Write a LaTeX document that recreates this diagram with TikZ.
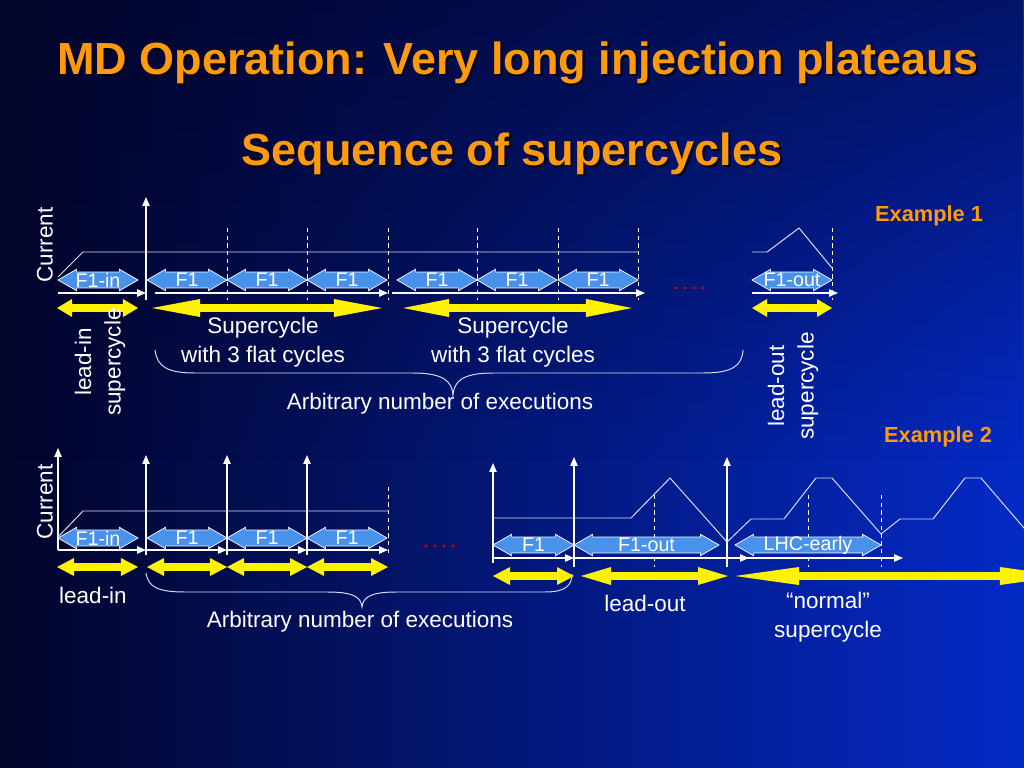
\documentclass[tikz,border=0pt]{standalone}
\usepackage{fontspec}
\setmainfont{Liberation Sans}
\usetikzlibrary{shapes.arrows,arrows.meta,fadings}
\definecolor{bgdark}{RGB}{2,4,42}
\definecolor{bgmid}{RGB}{12,32,132}
\definecolor{bglight}{RGB}{4,42,198}
\definecolor{ttlorange}{RGB}{255,155,10}
\definecolor{cycblue}{RGB}{72,146,236}
\definecolor{lvlgray}{RGB}{215,222,242}
\definecolor{dotred}{RGB}{160,10,20}
\tikzset{
  ax/.style={white,line width=0.9pt,-{Triangle[length=0.22cm,width=0.18cm]}},
  lvl/.style={lvlgray,line width=0.7pt},
  dashline/.style={white,line width=0.7pt,dash pattern=on 3pt off 2.5pt},
  cyc/.style={double arrow,draw=white,line width=0.5pt,fill=cycblue,
    double arrow tip angle=60,double arrow head extend=0.07cm,
    inner xsep=0pt,inner ysep=0.19cm,
    label={[text=white,font=\fontsize{14}{14}\selectfont]center:#1}},
  yarr/.style={yellow,line width=0.2cm,
    arrows={Triangle[length=#1,width=0.45cm,line width=0pt]-Triangle[length=#1,width=0.45cm,line width=0pt]}},
  txt/.style={text=white,font=\fontsize{16}{21}\selectfont,align=center},
  exlbl/.style={text=ttlorange,font=\fontsize{15.5}{18}\selectfont\bfseries},
  ttl/.style={font=\fontsize{32}{36}\selectfont\bfseries,anchor=base},
}
\begin{document}
\begin{tikzpicture}[x=0.025cm,y=-0.025cm]
\useasboundingbox (0,0) rectangle (1024,768);
\clip (0,0) rectangle (1024,768);
% background
\shade[left color=bgdark,middle color=bgmid,right color=bglight] (0,0) rectangle (1024,768);
\fill[bgdark,path fading=south,fill opacity=0.6] (0,0) rectangle (1024,460);
% titles
\foreach \d/\c in {2/black,0/ttlorange} {
  \node[ttl,text=\c] (title\d) at (518+\d,75+\d) {MD Operation: Very long injection plateaus};
  \node[ttl,text=\c] (sub\d) at (512+\d,166+\d) {Sequence of supercycles};
}
\node[exlbl] (ex1) at (929,216) {Example 1};
\node[exlbl] (ex2) at (938,437) {Example 2};

% Example 1
\draw[ax] (146,300) -- (146,197);
\draw[lvl] (58,277) -- (83,252) -- (638,252);
\draw[lvl] (752,252) -- (767,252) -- (799,228) -- (832,268);
\foreach \x in {227,307,388,477,558,638,832}
  \draw[dashline] (\x,228) -- (\x,300);
\foreach \a/\b in {58/146,155/388,392/645,752/838}
  \draw[ax] (\a,293) -- (\b,293);
\foreach \a/\t [count=\i] in {58/F1-in,147/F1,227/F1,307/F1,397/F1,477/F1,558/F1,752/F1-out}
  \node[cyc=\t,minimum height=2cm] (a\i) at (\a+40,280) {};
\foreach \a/\b/\l in {57/138/0.375cm,152/382/1.2cm,403/632/1.15cm,752/832/0.375cm}
  \draw[yarr=\l] (\a,308) -- (\b,308);
\foreach \x in {676,685,694,703}
  \fill[dotred] (\x,288) circle[radius=1.3pt];
\draw[lvl] (155,350) .. controls (157,367) and (168,373) .. (195,373) -- (413,373)
  .. controls (443,373) and (452,381) .. (453,395) .. controls (454,381) and (463,373) .. (493,373)
  -- (703,373) .. controls (732,373) and (742,366) .. (743,350);
\node[txt,rotate=90] (cur1) at (45,245) {Current};
\node[txt,rotate=90] (li1) at (100,362) {lead-in\\supercycle};
\node[txt] (sc1) at (263,342) {Supercycle\\with 3 flat cycles};
\node[txt] (sc2) at (513,342) {Supercycle\\with 3 flat cycles};
\node[txt] (ar1) at (440,404) {Arbitrary number of executions};
\node[txt,rotate=90] (lo1) at (793,386) {lead-out\\supercycle};

% Example 2
\draw[ax] (58,550) -- (58,448);
\foreach \x in {146,227,307}
  \draw[ax] (\x,555) -- (\x,455);
\draw[lvl] (58,537) -- (83,511) -- (388,511);
\draw[dashline] (388,487) -- (388,555);
\foreach \a/\b in {58/146,146/227,227/307,307/388}
  \draw[ax] (\a,550) -- (\b,550);
\foreach \a/\t [count=\i] in {58/F1-in,147/F1,227/F1,307/F1}
  \node[cyc=\t,minimum height=2cm] (b\i) at (\a+40,538) {};
\foreach \a/\b in {57/138,147/227,227/307,307/388}
  \draw[yarr=0.425cm] (\a,567) -- (\b,567);
\foreach \x in {426,435,444,453}
  \fill[dotred] (\x,546) circle[radius=1.3pt];
\draw[ax] (493,563) -- (493,463);
\foreach \x in {574,727}
  \draw[ax] (\x,567) -- (\x,457);
\draw[lvl] (493,518) -- (631,518) -- (670,478) -- (727,542) -- (751,519) -- (784,519)
  -- (816,478) -- (832,478) -- (881,534) -- (900,519) -- (933,519) -- (965,478)
  -- (981,478) -- (1030,535);
\foreach \x in {654,808,881}
  \draw[dashline] (\x,495) -- (\x,567);
\foreach \a/\b in {493/574,574/749,727/903}
  \draw[ax] (\a,558) -- (\b,558);
\node[cyc=F1,minimum height=2.025cm] (c1) at (533.5,545) {};
\node[cyc=F1-out,minimum height=3.625cm] (c2) at (646.5,545) {};
\node[cyc=LHC-early,minimum height=3.65cm] (c3) at (808,545) {};
\draw[yarr=0.425cm] (493,576) -- (574,576);
\draw[yarr=0.75cm] (581,576) -- (728,576);
\draw[yarr=1.6cm] (735,576) -- (1064,576);
\draw[lvl] (146,573) .. controls (148,587) and (158,592) .. (185,592) -- (328,592)
  .. controls (355,592) and (361,598) .. (362,607) .. controls (363,598) and (369,592) .. (396,592)
  -- (545,592) .. controls (566,592) and (572,585) .. (572,574);
\node[txt,rotate=90] (cur2) at (45,502) {Current};
\node[txt] (li2) at (93,595) {lead-in};
\node[txt] (ar2) at (360,622) {Arbitrary number of executions};
\node[txt] (lo2) at (645,603) {lead-out};
\node[txt] (ns) at (828,617) {“normal”\\supercycle};
\end{tikzpicture}
\end{document}
